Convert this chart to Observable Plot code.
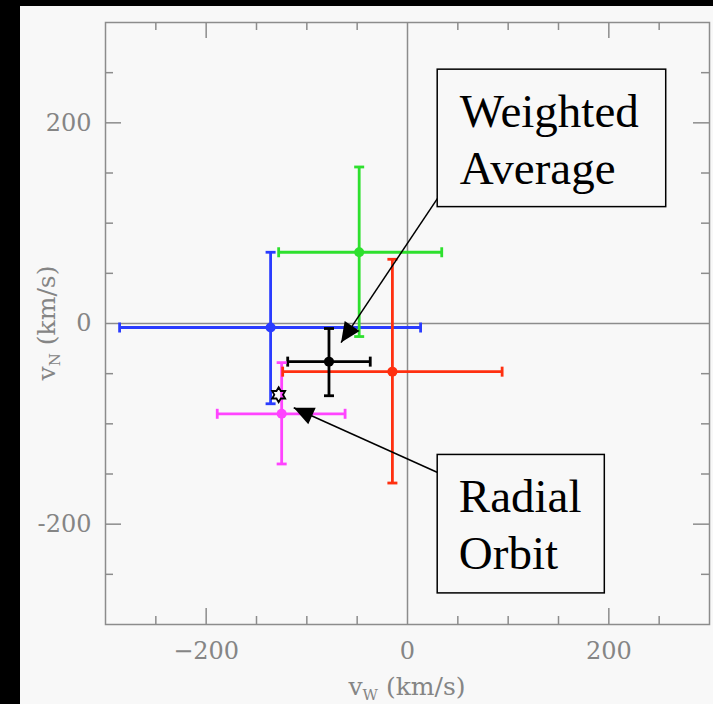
<!DOCTYPE html>
<html><head><meta charset="utf-8">
<script src="https://cdn.jsdelivr.net/npm/d3@7"></script>
<script src="https://cdn.jsdelivr.net/npm/@observablehq/plot@0.6"></script>
<style>
html,body{margin:0;padding:0;background:#000;width:713px;height:704px;overflow:hidden}
#chart{position:absolute;left:20px;top:6px;width:693px;height:698px;background:#f8f8f8}
#chart svg{background:#f8f8f8}
</style></head><body><div id="chart"></div>
<script>
// ---- data (km/s) ----
const colors = ["#2a3cff", "#2ee02e", "#ff3010", "#ff44ff", "#000000"];
const vW    = [-136, -48, -15, -125, -78];
const vN    = [  -4,  71, -48,  -90, -38];
const vWlo  = [-286, -128, -124, -189, -119];
const vWhi  = [  13,   34,   94,  -62,  -37];
const vNlo  = [ -80,  -13, -159, -140,  -72];
const vNhi  = [  71,  156,   64,  -39,   -5];

const radialOrbit = [{vW: -128, vN: -71}];

const majorTicks = [-200, 200];
const minorTicks = [-250, -150, -100, -50, 50, 100, 150, 250];
const tickLabels = [-200, 0, 200];

// annotations
const boxX1 = [30, 30], boxX2 = [257, 196], boxY1 = [116, -269], boxY2 = [253, -131];
const arrowX1 = [30, 31], arrowY1 = [125, -149], arrowX2 = [-66, -113], arrowY2 = [-19, -84];
const lineText = ["Weighted", "Average", "Radial", "Orbit"];
const lineX = [52, 52, 51, 51];
const lineY = [211, 154, -173, -230];

// ---- derived tables ----
const rows = vW.map((x, i) => ({vW: x, vN: vN[i], wlo: vWlo[i], whi: vWhi[i], nlo: vNlo[i], nhi: vNhi[i], color: colors[i]}));
const boxes = boxX1.map((d, i) => ({x1: d, x2: boxX2[i], y1: boxY1[i], y2: boxY2[i]}));
const arrows = arrowX1.map((d, i) => ({x1: d, y1: arrowY1[i], x2: arrowX2[i], y2: arrowY2[i]}));
const lines = lineText.map((t, i) => ({t, x: lineX[i], y: lineY[i]}));

// ---- custom symbols ----
const capV = {draw(c) { c.moveTo(0, -5); c.lineTo(0, 5); }};
const capH = {draw(c) { c.moveTo(-5, 0); c.lineTo(5, 0); }};
const head = {draw(c) { c.moveTo(0, 0); c.lineTo(-9, 20); c.lineTo(9, 20); c.closePath(); }};
const hexagram = {draw(c) {
  const R = 7.5, r = R / Math.sqrt(3);
  for (let k = 0; k < 12; k++) {
    const a = (-90 + k * 30) * Math.PI / 180;
    const rr = k % 2 === 0 ? R : r;
    const px = rr * Math.cos(a), py = rr * Math.sin(a);
    if (k === 0) c.moveTo(px, py); else c.lineTo(px, py);
  }
  c.closePath();
}};

const W = 693, H = 698, mL = 85, mR = 4, mT = 16, mB = 80;
const innerH = H - mT - mB, innerW = W - mL - mR;
const gray = "#8c8c8c";
const font = "DejaVu Serif";
const sw = 2.8;

const plot = Plot.plot({
  width: W, height: H,
  marginLeft: mL, marginRight: mR, marginTop: mT, marginBottom: mB,
  style: {background: "#f8f8f8", fontFamily: font},
  x: {domain: [-300, 300], label: null},
  y: {domain: [-300, 300], label: null},
  color: {type: "identity"},
  marks: [
    Plot.ruleX([0], {stroke: gray, strokeWidth: 1.5}),
    Plot.ruleY([0], {stroke: gray, strokeWidth: 1.5}),
    // inward ticks, four sides
    Plot.tickX(majorTicks, {x: d => d, insetTop: innerH - 16, stroke: gray, strokeWidth: 1.5}),
    Plot.tickX(majorTicks, {x: d => d, insetBottom: innerH - 16, stroke: gray, strokeWidth: 1.5}),
    Plot.tickX(minorTicks, {x: d => d, insetTop: innerH - 8, stroke: gray, strokeWidth: 1.5}),
    Plot.tickX(minorTicks, {x: d => d, insetBottom: innerH - 8, stroke: gray, strokeWidth: 1.5}),
    Plot.tickY(majorTicks, {y: d => d, insetRight: innerW - 16, stroke: gray, strokeWidth: 1.5}),
    Plot.tickY(majorTicks, {y: d => d, insetLeft: innerW - 16, stroke: gray, strokeWidth: 1.5}),
    Plot.tickY(minorTicks, {y: d => d, insetRight: innerW - 8, stroke: gray, strokeWidth: 1.5}),
    Plot.tickY(minorTicks, {y: d => d, insetLeft: innerW - 8, stroke: gray, strokeWidth: 1.5}),
    Plot.frame({stroke: gray, strokeWidth: 1.5}),
    Plot.axisX({anchor: "bottom", ticks: tickLabels, tickSize: 0, tickPadding: 17, fontSize: 24, fill: "#858585", tickFormat: d => d < 0 ? "\u2212" + (-d) : String(d), label: null}),
    Plot.axisY({anchor: "left", ticks: tickLabels, tickSize: 0, tickPadding: 14, fontSize: 24, fill: "#858585", tickFormat: d => d < 0 ? "-" + (-d) : String(d), label: null}),
    // error bars
    Plot.ruleY(rows, {y: "vN", x1: "wlo", x2: "whi", stroke: "color", strokeWidth: sw}),
    Plot.ruleX(rows, {x: "vW", y1: "nlo", y2: "nhi", stroke: "color", strokeWidth: sw}),
    Plot.dot(rows, {x: "wlo", y: "vN", symbol: capV, fill: "none", stroke: "color", strokeWidth: sw}),
    Plot.dot(rows, {x: "whi", y: "vN", symbol: capV, fill: "none", stroke: "color", strokeWidth: sw}),
    Plot.dot(rows, {x: "vW", y: "nlo", symbol: capH, fill: "none", stroke: "color", strokeWidth: sw}),
    Plot.dot(rows, {x: "vW", y: "nhi", symbol: capH, fill: "none", stroke: "color", strokeWidth: sw}),
    Plot.dot(rows, {x: "vW", y: "vN", r: 5, fill: "color", stroke: "none"}),
    // radial orbit star
    Plot.dot(radialOrbit, {x: "vW", y: "vN", symbol: hexagram, fill: "none", stroke: "#000", strokeWidth: 1.8}),
    // annotation arrows and boxes
    Plot.link(arrows, {x1: "x1", y1: "y1", x2: "x2", y2: "y2", stroke: "#000", strokeWidth: 1.5}),
    Plot.dot(arrows, {x: "x2", y: "y2", symbol: head, fill: "#000", stroke: "none",
      rotate: d => Math.atan2(d.x2 - d.x1, d.y2 - d.y1) * 180 / Math.PI}),
    Plot.rect(boxes, {x1: "x1", x2: "x2", y1: "y1", y2: "y2", fill: "#f8f8f8", stroke: "#000", strokeWidth: 1.5}),
    Plot.text(lines, {x: "x", y: "y", text: "t", textAnchor: "start", lineAnchor: "middle", fontSize: 47, fontFamily: "Liberation Serif", fill: "#000"})
  ]
});

// axis titles with subscripts
const svg = d3.select(plot);
const tx = svg.append("text")
  .attr("x", mL + innerW / 2).attr("y", 689)
  .attr("text-anchor", "middle").attr("font-family", font).attr("font-size", 25).attr("fill", "#858585");
tx.append("tspan").text("v");
tx.append("tspan").attr("font-size", 15).attr("dy", 5).text("W");
tx.append("tspan").attr("dy", -5).text(" (km/s)");

const ty = svg.append("text")
  .attr("transform", `translate(${27 + 8},${mT + innerH / 2}) rotate(-90)`)
  .attr("text-anchor", "middle").attr("font-family", font).attr("font-size", 25).attr("fill", "#858585");
ty.append("tspan").text("v");
ty.append("tspan").attr("font-size", 15).attr("dy", 5).text("N");
ty.append("tspan").attr("dy", -5).text(" (km/s)");

document.getElementById("chart").appendChild(plot);
</script></body></html>
